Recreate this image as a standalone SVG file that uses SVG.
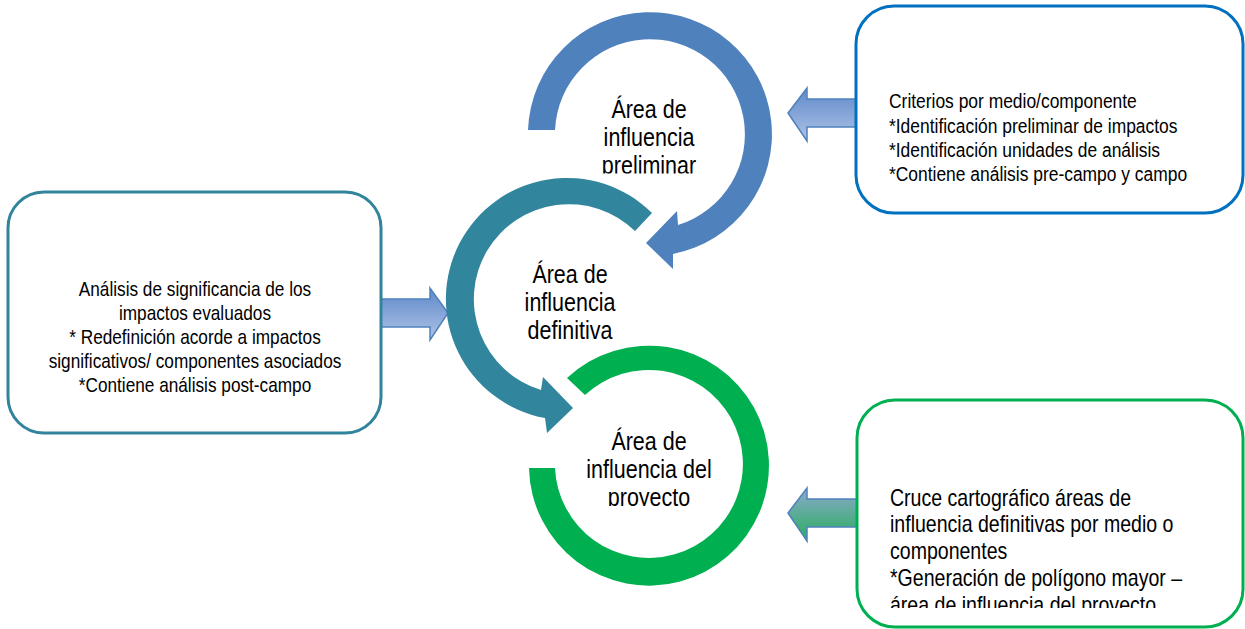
<svg xmlns="http://www.w3.org/2000/svg" width="1245" height="629" viewBox="0 0 1245 629">
  <style>
    text { font-family: "Liberation Sans", Arial, sans-serif; fill: #000; }
    .lbl { font-size: 25px; text-anchor: middle; }
    .box { fill: #fff; stroke-width: 3; }
    .bt { font-size: 21px; }
    .bt2 { font-size: 23px; }
    .blk { stroke: #4F81BD; stroke-width: 1.5; stroke-linejoin: miter; }
  </style>
  <defs>
    <linearGradient id="gBlue" x1="0" y1="0" x2="0" y2="1">
      <stop offset="0" stop-color="#5E89C9"/>
      <stop offset="1" stop-color="#AFC3E7"/>
    </linearGradient>
    <linearGradient id="gGreen" x1="0" y1="0" x2="0" y2="1">
      <stop offset="0" stop-color="#8DA9CF"/>
      <stop offset="1" stop-color="#27AE5A"/>
    </linearGradient>
    <clipPath id="cPre"><rect x="560" y="80" width="180" height="93.5"/></clipPath>
    <clipPath id="cPro"><rect x="560" y="420" width="180" height="86"/></clipPath>
    <clipPath id="cCruce"><rect x="860" y="470" width="380" height="138"/></clipPath>
  </defs>

  <g id="connectors">
    <path class="blk" fill="url(#gBlue)" d="M858,99 L807,99 L807,88 L788,113 L807,141 L807,127 L858,127 Z"/>
    <path class="blk" fill="url(#gBlue)" d="M380,299 L430,299 L430,288 L448,313 L430,340 L430,327 L380,327 Z"/>
    <path class="blk" fill="url(#gGreen)" d="M858,499 L807,499 L807,488 L788,513 L807,541 L807,527 L858,527 Z"/>
  </g>

  <g id="circle-preliminar">
    <path fill="#4F81BD" d="M528,130 A122,122 0 1 1 673,254 L673,269 L646,243 L677,211 L678,225 A95,95 0 1 0 555,130 Z"/>
    <g clip-path="url(#cPre)">
      <g transform="translate(649,0) scale(0.86,1)">
        <text class="lbl" x="0" y="118">Área de</text>
        <text class="lbl" x="0" y="146">influencia</text>
        <text class="lbl" x="0" y="174">preliminar</text>
      </g>
    </g>
  </g>

  <g id="circle-definitiva">
    <path fill="#31859C" d="M652,213 A121,121 0 1 0 545,418 L547,433 L573,408 L543,377 L541,390 A95,95 0 1 1 635,231 Z"/>
    <g transform="translate(570,0) scale(0.86,1)">
      <text class="lbl" x="0" y="283">Área de</text>
      <text class="lbl" x="0" y="311">influencia</text>
      <text class="lbl" x="0" y="339">definitiva</text>
    </g>
  </g>

  <g id="circle-proyecto">
    <path fill="#00B050" d="M529,468 A120,120 0 1 0 567,378 L585,395 A94,94 0 1 1 555,468 Z"/>
    <g clip-path="url(#cPro)">
      <g transform="translate(649,0) scale(0.86,1)">
        <text class="lbl" x="0" y="450">Área de</text>
        <text class="lbl" x="0" y="478">influencia del</text>
        <text class="lbl" x="0" y="506">proyecto</text>
      </g>
    </g>
  </g>

  <g id="box-criterios">
    <rect class="box" x="856" y="6" width="387" height="207" rx="38" ry="38" stroke="#0070C0"/>
    <g transform="translate(889,0) scale(0.83,1)">
      <text class="bt" x="0" y="108">Criterios por medio/componente</text>
      <text class="bt" x="0" y="133">*Identificación preliminar de impactos</text>
      <text class="bt" x="0" y="157">*Identificación unidades de análisis</text>
      <text class="bt" x="0" y="181">*Contiene análisis pre-campo y campo</text>
    </g>
  </g>

  <g id="box-analisis">
    <rect class="box" x="8" y="192" width="373" height="241" rx="36" ry="36" stroke="#31849B"/>
    <g transform="translate(195,0) scale(0.82,1)" text-anchor="middle">
      <text class="bt" x="0" y="296">Análisis de significancia de los</text>
      <text class="bt" x="0" y="320">impactos evaluados</text>
      <text class="bt" x="0" y="344">* Redefinición acorde a impactos</text>
      <text class="bt" x="0" y="368">significativos/ componentes asociados</text>
      <text class="bt" x="0" y="392">*Contiene análisis post-campo</text>
    </g>
  </g>

  <g id="box-cruce">
    <rect class="box" x="857" y="400" width="386" height="227" rx="38" ry="38" stroke="#00B050"/>
    <g clip-path="url(#cCruce)">
      <g transform="translate(890,0) scale(0.85,1)">
        <text class="bt2" x="0" y="506">Cruce cartográfico áreas de</text>
        <text class="bt2" x="0" y="532">influencia definitivas por medio o</text>
        <text class="bt2" x="0" y="559">componentes</text>
        <text class="bt2" x="0" y="586">*Generación de polígono mayor –</text>
        <text class="bt2" x="0" y="613">área de influencia del proyecto</text>
      </g>
    </g>
  </g>
</svg>
